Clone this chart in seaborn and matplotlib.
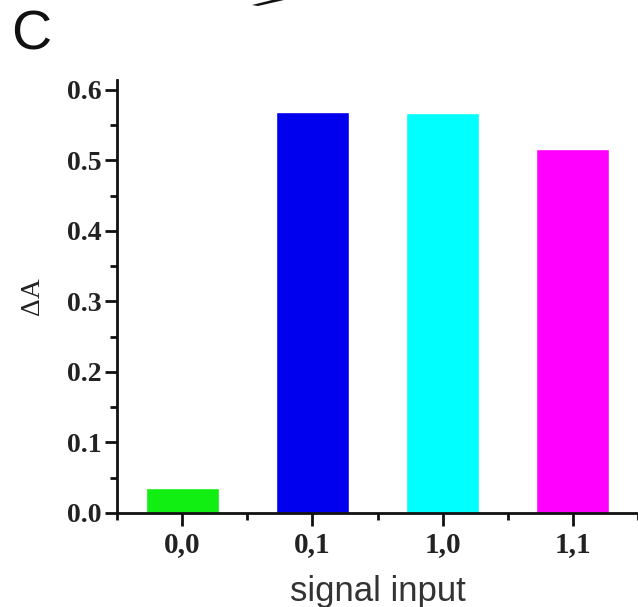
import matplotlib
matplotlib.use('Agg')
import matplotlib.pyplot as plt
from matplotlib.patches import Polygon
from matplotlib.ticker import MultipleLocator
import seaborn as sns
import pandas as pd

# data
inputs = ['0,0', '0,1', '1,0', '1,1']
delta_a = [0.035, 0.569, 0.567, 0.516]
bar_colors = ['#11ee11', '#0000ee', '#00ffff', '#ff00ff']

df = pd.DataFrame({'input': inputs, 'dA': delta_a})

sns.set_style('ticks')
fig = plt.figure(figsize=(6.38, 6.07), dpi=100)
ax = fig.add_axes([0.1834, 0.1549, 1.0 - 0.1834, 0.868 - 0.1549])

sns.barplot(data=df, x='input', y='dA', hue='input', palette=bar_colors,
            width=0.56, legend=False, saturation=1, ax=ax)

ax.set_xlim(-0.5, 3.5)
ax.set_ylim(0, 0.614)
ax.yaxis.set_major_locator(MultipleLocator(0.1))
ax.yaxis.set_minor_locator(MultipleLocator(0.05))
ax.xaxis.set_minor_locator(MultipleLocator(0.5))
ax.yaxis.set_major_formatter(matplotlib.ticker.FormatStrFormatter('%.1f'))

for s in ['top', 'right']:
    ax.spines[s].set_visible(False)
for s in ['left', 'bottom']:
    ax.spines[s].set_linewidth(2)
    ax.spines[s].set_color('#111111')

ax.tick_params(which='major', direction='out', length=9, width=2, color='#111111')
ax.tick_params(which='minor', direction='out', length=5, width=2, color='#111111')

for lab in ax.get_yticklabels():
    lab.set_family('Liberation Serif')
    lab.set_weight('bold')
    lab.set_fontsize(20)
    lab.set_color('#222222')
for lab in ax.get_xticklabels():
    lab.set_family('Liberation Serif')
    lab.set_weight('bold')
    lab.set_fontsize(21)
    lab.set_color('#222222')
ax.tick_params(axis='x', pad=4)
ax.tick_params(axis='y', pad=2)

ax.set_ylabel('ΔA', family='Liberation Serif', fontsize=20, color='#222222', labelpad=16)
ax.set_xlabel('signal input', family='Liberation Sans', fontsize=25, color='#333333', labelpad=12)

fig.text(0.018, 1 - 35 / 607, 'C', family='Liberation Sans', fontsize=40,
         va='center', ha='left', color='#111111')

# piece of the arrow cut off at the top edge
W, H = 638, 607
pts = [(252 / W, 1 - 5 / H), (272 / W, 1.0), (284 / W, 1.0), (258 / W, 1 - 6 / H)]
fig.add_artist(Polygon(pts, closed=True, transform=fig.transFigure,
                       color='#111111', lw=0))

fig.savefig('out.png', dpi=100)
